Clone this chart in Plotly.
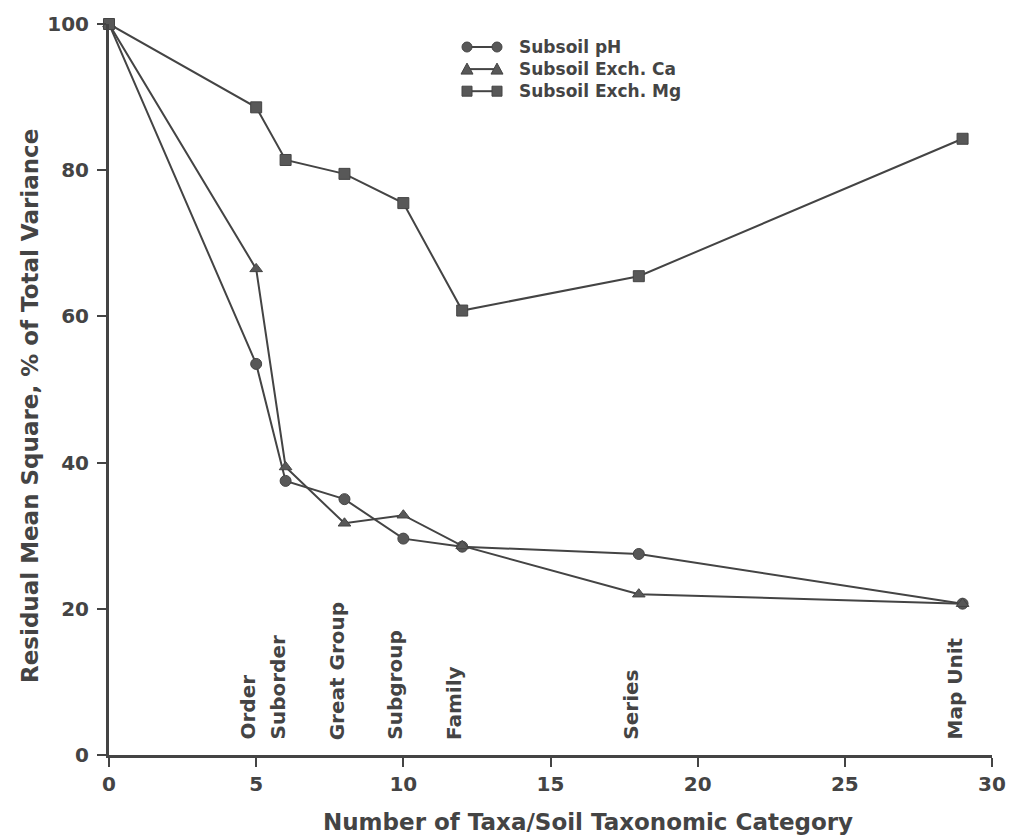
import plotly.graph_objects as go

# Number of taxa at each soil taxonomic level
taxa = [0, 5, 6, 8, 10, 12, 18, 29]
category_x = [5, 6, 8, 10, 12, 18, 29]
category_names = ["Order", "Suborder", "Great Group", "Subgroup", "Family", "Series", "Map Unit"]

# Residual mean square, % of total variance
subsoil_ph = [100, 53.5, 37.5, 35.0, 29.6, 28.5, 27.5, 20.7]
subsoil_ca = [100, 66.5, 39.4, 31.7, 32.8, 28.6, 22.0, 20.7]
subsoil_mg = [100, 88.6, 81.4, 79.5, 75.5, 60.8, 65.5, 84.3]

series_names = ["Subsoil pH", "Subsoil Exch. Ca", "Subsoil Exch. Mg"]
series_symbols = ["circle", "triangle-up", "square"]

INK = "#444444"
MARK = "#585858"
FONT = "DejaVu Sans, Liberation Sans, Arial, sans-serif"

W, H = 1010, 837
ML, MR, MT, MB = 109, 18, 24, 82
PW, PH = W - ML - MR, H - MT - MB


def px(x):
    return (x - ML) / PW


def py(y):
    return (H - MB - y) / PH


fig = go.Figure()
for name, vals, sym in zip(series_names, [subsoil_ph, subsoil_ca, subsoil_mg], series_symbols):
    fig.add_trace(go.Scatter(
        x=taxa, y=vals, name=name, mode="lines+markers",
        line=dict(color=INK, width=2),
        marker=dict(symbol=sym, size=11, color=MARK, line=dict(color=INK, width=1)),
        cliponaxis=False, showlegend=False,
    ))

# Legend: marker-line-marker glyphs next to one multi-line label block
LEG_SIZE = 17
line_step = LEG_SIZE * 1.3
first_row = 47
legend_rows = [first_row + i * line_step for i in range(len(series_names))]
x_left, x_right, x_text = 467, 497, 517
r = 5
for row_y, sym in zip(legend_rows, series_symbols):
    fig.add_shape(type="line", xref="paper", yref="paper",
                  x0=px(x_left), x1=px(x_right), y0=py(row_y), y1=py(row_y),
                  line=dict(color=INK, width=2))
    for cx in (x_left, x_right):
        if sym == "circle":
            fig.add_shape(type="circle", xref="paper", yref="paper",
                          x0=px(cx - r), x1=px(cx + r), y0=py(row_y + r), y1=py(row_y - r),
                          fillcolor=MARK, line=dict(color=INK, width=1))
        elif sym == "square":
            fig.add_shape(type="rect", xref="paper", yref="paper",
                          x0=px(cx - r), x1=px(cx + r), y0=py(row_y + r), y1=py(row_y - r),
                          fillcolor=MARK, line=dict(color=INK, width=1))
        else:
            path = (f"M {px(cx - r - 1)},{py(row_y + r)} "
                    f"L {px(cx + r + 1)},{py(row_y + r)} "
                    f"L {px(cx)},{py(row_y - r - 1)} Z")
            fig.add_shape(type="path", xref="paper", yref="paper", path=path,
                          fillcolor=MARK, line=dict(color=INK, width=1))
fig.add_annotation(
    x=px(x_text), y=py((legend_rows[0] + legend_rows[-1]) / 2), xref="paper", yref="paper",
    text="<br>".join(f"<b>{n}</b>" for n in series_names), showarrow=False,
    xanchor="left", yanchor="middle", align="left",
    font=dict(family=FONT, size=LEG_SIZE, color=INK),
)

# Rotated taxonomic category labels above the x axis
for cx, cname in zip(category_x, category_names):
    fig.add_annotation(
        x=cx, y=1.8, xref="x", yref="y", text=f"<b>{cname}</b>",
        textangle=-90, showarrow=False, xanchor="center", yanchor="bottom",
        xshift=-8, font=dict(family=FONT, size=20, color=INK),
    )

fig.add_annotation(
    x=px(588), y=py(822), xref="paper", yref="paper",
    text="<b>Number of Taxa/Soil Taxonomic Category</b>",
    showarrow=False, xanchor="center", yanchor="middle",
    font=dict(family=FONT, size=23, color=INK),
)
fig.add_annotation(
    x=px(30), y=py(406), xref="paper", yref="paper",
    text="<b>Residual Mean Square, % of Total Variance</b>",
    textangle=-90, showarrow=False, xanchor="center", yanchor="middle",
    font=dict(family=FONT, size=23, color=INK),
)

axis_common = dict(
    showgrid=False, zeroline=False, showline=True, linecolor=INK, linewidth=3,
    ticks="outside", ticklen=9, tickwidth=2, tickcolor=INK, automargin=False,
    tickfont=dict(family=FONT, size=20, color=INK, weight="bold"),
)
fig.update_xaxes(range=[0, 30], tickvals=[0, 5, 10, 15, 20, 25, 30], **axis_common)
fig.update_yaxes(range=[0, 100], tickvals=[0, 20, 40, 60, 80, 100],
                 ticklabelstandoff=4, **axis_common)

fig.update_layout(
    width=W, height=H,
    margin=dict(l=ML, r=MR, t=MT, b=MB, autoexpand=False),
    plot_bgcolor="white", paper_bgcolor="white",
    showlegend=False,
    font=dict(family=FONT, color=INK),
)

fig.write_html("out.html")
